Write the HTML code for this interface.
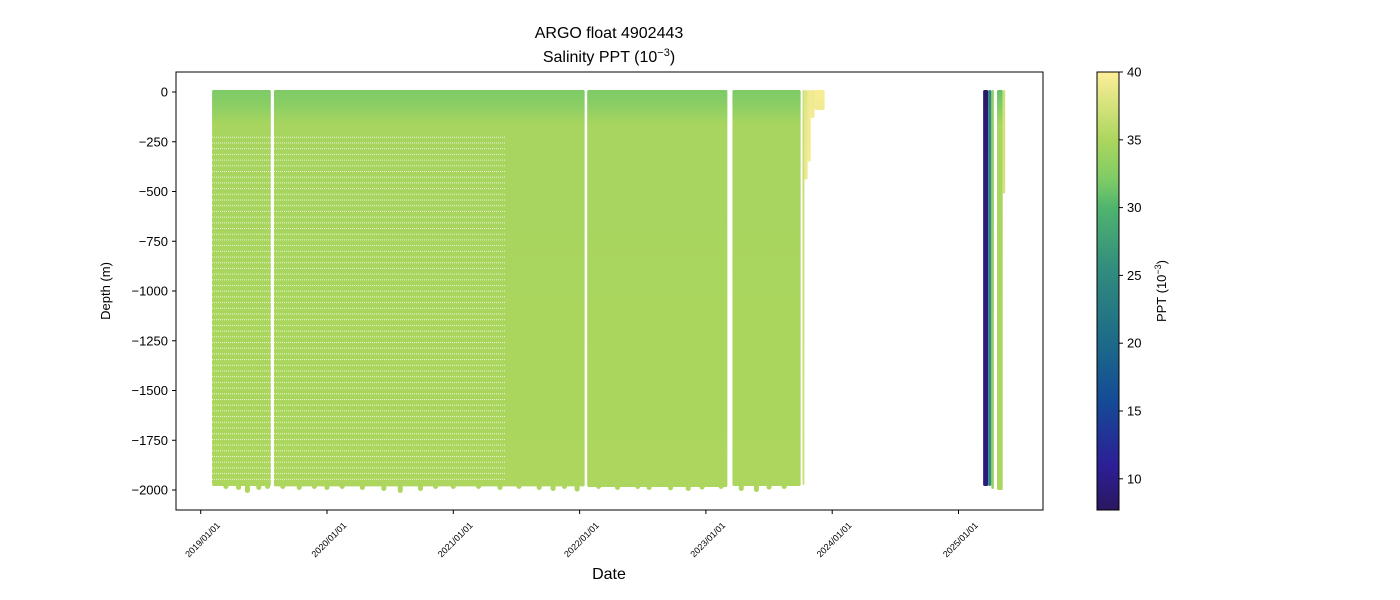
<!DOCTYPE html>
<html><head><meta charset="utf-8">
<style>
html,body{margin:0;padding:0;background:#fff;}
svg{display:block;font-family:"Liberation Sans","DejaVu Sans",sans-serif;}
</style></head>
<body>
<svg id="chart" width="1400" height="600" viewBox="0 0 1400 600" xmlns="http://www.w3.org/2000/svg">
<defs>
<linearGradient id="cbgrad" x1="0" y1="1" x2="0" y2="0"></linearGradient>
<pattern id="dots" width="2" height="5.7" patternUnits="userSpaceOnUse">
<rect x="0" y="0" width="1" height="1" fill="#fff" opacity="0.75"/>
</pattern>
<clipPath id="plotclip"><rect x="176" y="72" width="867" height="438"/></clipPath>
</defs>
<text x="609" y="38" font-size="16" text-anchor="middle">ARGO float 4902443</text>
<text x="609" y="62" font-size="16" text-anchor="middle">Salinity PPT (10<tspan baseline-shift="super" font-size="11">−3</tspan>)</text>
<g id="marks" clip-path="url(#plotclip)"></g>
<g id="axes"></g>
<rect x="176" y="72" width="867" height="438" fill="none" stroke="#000" stroke-width="1"/>
<text transform="translate(110,291) rotate(-90)" font-size="13" text-anchor="middle">Depth (m)</text>
<text x="609" y="579" font-size="16" text-anchor="middle">Date</text>
<rect x="1097" y="72" width="22" height="438" fill="url(#cbgrad)" stroke="#000" stroke-width="1"/>
<g id="cbaxis"></g>
<text transform="translate(1166,291) rotate(-90)" font-size="13" text-anchor="middle">PPT (10<tspan baseline-shift="super" font-size="9">−3</tspan>)</text>
</svg>
<script>
// ---- data ----
const xTickLabels = ["2019/01/01","2020/01/01","2021/01/01","2022/01/01","2023/01/01","2024/01/01","2025/01/01"];
const xTickYears = [2019,2020,2021,2022,2023,2024,2025];
const yTicks = [0,-250,-500,-750,-1000,-1250,-1500,-1750,-2000];
const cbTicks = [10,15,20,25,30,35,40];
// segments: start year, end year, max depth, surface salinity, deep salinity
const segStart = [2019.09,2019.58,2022.06,2023.21,2023.765,2023.78,2023.805,2023.83,2023.86,2025.195,2025.235,2025.26,2025.305,2025.35];
const segEnd   = [2019.555,2022.04,2023.17,2023.75,2023.78,2023.805,2023.83,2023.86,2023.94,2025.235,2025.26,2025.28,2025.35,2025.37];
const segDepth = [-1970,-1972,-1975,-1970,-1965,-430,-340,-120,-80,-1970,-1970,-1985,-1990,-500];
const segTop   = [32,32,32,32,37,38,39,39,39.5,8,24,33,31,37];
const segDeep  = [35,35,35,35,37,39,39.5,39.5,39.5,9.5,25,33.5,35,37.5];
// dotted coarse-resolution region
const dotStart = [2019.09,2019.58];
const dotEnd = [2019.555,2021.41];
// deeper profiles (year, depth)
const dipYears = [2019.2,2019.3,2019.37,2019.46,2019.53,2019.65,2019.78,2019.9,2020.0,2020.12,2020.28,2020.45,2020.58,2020.74,2020.86,2021.0,2021.2,2021.37,2021.52,2021.68,2021.79,2021.88,2021.98,2022.15,2022.3,2022.46,2022.55,2022.72,2022.86,2022.97,2023.12,2023.28,2023.4,2023.5,2023.62];
const dipDepths = [-1985,-1990,-2005,-1990,-1985,-1985,-1990,-1985,-1990,-1985,-1990,-1995,-2005,-1995,-1985,-1985,-1985,-1990,-1985,-1990,-1995,-1985,-1998,-1985,-1990,-1985,-1990,-1992,-1995,-1988,-1985,-1995,-2000,-1988,-1985];
// ---- scales ----
const xS = yr => 200.7 + (yr-2019)*126.3;
const yS = d => 92 - d*(398/2000);
const cbMin = 7.7, cbMax = 40;
const cbS = v => 510 - (v-cbMin)/(cbMax-cbMin)*438;
const stops = [[0,[42,24,95]],[0.1,[45,30,150]],[0.25,[20,75,150]],[0.4,[30,110,135]],[0.55,[50,140,125]],[0.69,[79,180,110]],[0.752,[125,203,102]],[0.845,[172,214,94]],[1,[253,238,153]]];
function cmap(v){
  let t=Math.max(0,Math.min(1,(v-cbMin)/(cbMax-cbMin)));
  for(let i=1;i<stops.length;i++){ if(t<=stops[i][0]){ const a=stops[i-1],b=stops[i],f=(t-a[0])/(b[0]-a[0]);
    const c=a[1].map((x,k)=>Math.round(x+(b[1][k]-x)*f)); return `rgb(${c[0]},${c[1]},${c[2]})`; } }
  return 'rgb(253,238,153)';
}
const NS='http://www.w3.org/2000/svg';
function mk(tag,attrs,parent){const e=document.createElementNS(NS,tag);for(const k in attrs)e.setAttribute(k,attrs[k]);parent.appendChild(e);return e;}
const grad=document.getElementById('cbgrad');
stops.forEach(s=>mk('stop',{offset:s[0],'stop-color':`rgb(${s[1].join(',')})`},grad));
const marks=document.getElementById('marks');
segStart.forEach((s,i)=>{
  const gid='sg'+i;
  const g=mk('linearGradient',{id:gid,x1:0,y1:0,x2:0,y2:1},document.querySelector('defs'));
  const top=segTop[i],deep=segDeep[i];
  const frac=Math.min(1,170/Math.abs(segDepth[i]));
  mk('stop',{offset:0,'stop-color':cmap(top)},g);
  mk('stop',{offset:frac*0.45,'stop-color':cmap(top+(deep-top)*0.3)},g);
  mk('stop',{offset:frac,'stop-color':cmap(deep-0.3)},g);
  mk('stop',{offset:1,'stop-color':cmap(deep)},g);
  const x0=xS(s),x1=xS(segEnd[i]);
  const r=mk('rect',{x:x0,y:yS(0)-2,width:Math.max(1.5,x1-x0),height:yS(segDepth[i])-yS(0)+4,rx:1.5,fill:`url(#${gid})`},marks);
  
  
});
dipYears.forEach((yr,i)=>{
  const c=mk('rect',{x:xS(yr)-2.5,y:yS(-1970),width:5,height:yS(dipDepths[i])-yS(-1970)+2,rx:2.5,fill:cmap(35)},marks);
  
  
});
dotStart.forEach((s,i)=>{
  const r=mk('rect',{x:xS(s),y:yS(-220),width:xS(dotEnd[i])-xS(s),height:yS(-1950)-yS(-220),fill:'url(#dots)'},marks);
  
  
});
const ax=document.getElementById('axes');
xTickYears.forEach((yr,i)=>{
  const x=xS(yr);
  const t=mk('line',{x1:x,y1:510,x2:x,y2:514,stroke:'#000'},ax);
  
  
  const l=mk('text',{transform:`translate(${x+20},${526}) rotate(-45)`,'font-size':9,'text-anchor':'end'},ax);
  l.textContent=xTickLabels[i];
  
  
});
yTicks.forEach(d=>{
  const y=yS(d);
  const t=mk('line',{x1:172,y1:y,x2:176,y2:y,stroke:'#000'},ax);
  
  
  const l=mk('text',{x:168,y:y+4.5,'font-size':13,'text-anchor':'end'},ax);
  l.textContent=d===0?'0':'−'+Math.abs(d);
  
  
});
const cba=document.getElementById('cbaxis');
cbTicks.forEach(v=>{
  const y=cbS(v);
  const t=mk('line',{x1:1119,y1:y,x2:1123,y2:y,stroke:'#000'},cba);
  
  
  const l=mk('text',{x:1127,y:y+4.5,'font-size':13},cba);
  l.textContent=v;
  
  
});
</script>
</body></html>
